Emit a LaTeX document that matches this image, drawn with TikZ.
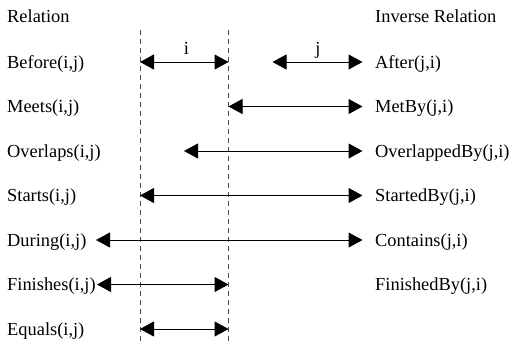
\documentclass[tikz,border=0pt]{standalone}
\usepackage{fontspec}
\setmainfont{Liberation Serif}
\usetikzlibrary{arrows.meta}
\begin{document}
\begin{tikzpicture}[x=1bp,y=-1bp,
  lbl/.style={anchor=base west,inner sep=0pt,font=\fontsize{18.4bp}{22bp}\selectfont},
  toplbl/.style={anchor=base,inner sep=0pt,font=\fontsize{18.4bp}{22bp}\selectfont},
  guide/.style={draw=black!70,line width=0.9bp,dash pattern=on 5bp off 4bp},
  iv/.style={line width=1bp,-{Triangle[length=14bp,width=15bp]}},
  biv/.style={line width=1bp,{Triangle[length=14bp,width=15bp]}-{Triangle[length=14bp,width=15bp]}}]
\useasboundingbox (0,0) rectangle (512,344);
% guide lines
\coordinate (g1t) at (140,30);
\coordinate (g1b) at (140,344);
\coordinate (g2t) at (228.5,30);
\coordinate (g2b) at (228.5,344);
\draw[guide] (g1t) -- (g1b);
\draw[guide] (g2t) -- (g2b);
% headers
\node[lbl] (hl) at (7,22.7) {Relation};
\node[lbl] (hr) at (375,22.7) {Inverse Relation};
% left labels
\node[lbl] (l1) at (7,68.3) {Before(i,j)};
\node[lbl] (l2) at (7,112.8) {Meets(i,j)};
\node[lbl] (l3) at (7,157.3) {Overlaps(i,j)};
\node[lbl] (l4) at (7,201.8) {Starts(i,j)};
\node[lbl] (l5) at (7,246.3) {During(i,j)};
\node[lbl] (l6) at (7,290.8) {Finishes(i,j)};
\node[lbl] (l7) at (7,335.3) {Equals(i,j)};
% right labels
\node[lbl] (r1) at (375,68.3) {After(j,i)};
\node[lbl] (r2) at (375,112.8) {MetBy(j,i)};
\node[lbl] (r3) at (375,157.3) {OverlappedBy(j,i)};
\node[lbl] (r4) at (375,201.8) {StartedBy(j,i)};
\node[lbl] (r5) at (375,246.3) {Contains(j,i)};
\node[lbl] (r6) at (375,290.8) {FinishedBy(j,i)};
% interval labels
\node[toplbl] (li) at (186.5,54) {i};
\node[toplbl] (lj) at (318,54) {j};
% arrow end points
\coordinate (a1) at (140,62);   \coordinate (b1) at (228.5,62);
\coordinate (c1) at (272.5,62); \coordinate (d1) at (362.5,62);
\coordinate (a2) at (228.5,106.5); \coordinate (b2) at (362.5,106.5);
\coordinate (a3) at (184,151);  \coordinate (b3) at (362.5,151);
\coordinate (a4) at (140,195.5); \coordinate (b4) at (362.5,195.5);
\coordinate (a5) at (96,240);   \coordinate (b5) at (362.5,240);
\coordinate (a6) at (97,284.5); \coordinate (b6) at (228.5,284.5);
\coordinate (a7) at (140,329);  \coordinate (b7) at (228.5,329);
% arrows
\draw[biv] (a1) -- (b1);
\draw[biv] (c1) -- (d1);
\draw[biv] (a2) -- (b2);
\draw[biv] (a3) -- (b3);
\draw[biv] (a4) -- (b4);
\draw[biv] (a5) -- (b5);
\draw[biv] (a6) -- (b6);
\draw[biv] (a7) -- (b7);
\end{tikzpicture}
\end{document}
